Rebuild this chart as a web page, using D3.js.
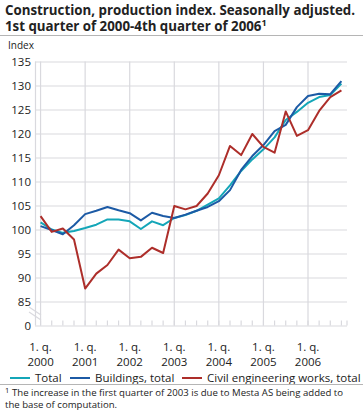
<!DOCTYPE html>
<html>
<head>
<meta charset="utf-8" />
<title>Construction, production index</title>
<script src="https://cdn.jsdelivr.net/npm/d3@7"></script>
<style>
  html, body { margin: 0; padding: 0; background: #fff; }
  body { font-family: "Open Sans", "DejaVu Sans", sans-serif; }
  svg text { fill: #222; }
</style>
</head>
<body>
<svg id="chart" width="363" height="410"></svg>
<script>
// quarters 2000Q1 .. 2006Q4
const years = ["2000", "2001", "2002", "2003", "2004", "2005", "2006"];
const yTicks = [80, 85, 90, 95, 100, 105, 110, 115, 120, 125, 130, 135];

const total = [101.5, 100.0, 99.3, 99.7, 100.3, 101.0, 102.1, 102.1,
  101.7, 100.1, 101.7, 100.9, 102.4, 103.0, 103.9, 105.2,
  106.5, 109.2, 112.2, 114.6, 116.7, 119.2, 122.8, 124.5,
  126.4, 127.6, 128.0, 130.4];
const buildings = [100.7, 99.9, 99.0, 100.9, 103.2, 103.9, 104.7, 104.0,
  103.4, 101.9, 103.5, 102.8, 102.4, 103.1, 103.9, 104.7,
  105.9, 108.2, 112.4, 115.3, 117.6, 120.5, 121.8, 125.5,
  127.8, 128.3, 128.2, 130.9];
const civil = [102.8, 99.5, 100.2, 97.9, 87.7, 90.8, 92.6, 95.8,
  94.0, 94.3, 96.2, 95.1, 104.9, 104.2, 104.9, 107.5,
  111.3, 117.4, 115.5, 119.9, 117.2, 116.0, 124.6, 119.5,
  120.7, 124.7, 127.6, 129.0];

const series = [
  { name: "Total", values: total, color: "#14a6b8" },
  { name: "Buildings, total", values: buildings, color: "#1c5aa5" },
  { name: "Civil engineering works, total", values: civil, color: "#ad2e2a" }
];

const svg = d3.select("#chart");
const margin = { top: 61.5, right: 16, bottom: 85, left: 35 };
const width = 363, height = 410;
const innerWidth = width - margin.left - margin.right;
const innerHeight = 325.5 - margin.top;
const grid = "#d9d9de";

// title
svg.append("text").attr("x", 5).attr("y", 15)
  .attr("font-size", 13.3).attr("font-weight", 700)
  .text("Construction, production index. Seasonally adjusted.");
const t2 = svg.append("text").attr("x", 5).attr("y", 31)
  .attr("font-size", 13.3).attr("font-weight", 700)
  .text("1st quarter of 2000-4th quarter of 2006");
t2.append("tspan").attr("font-size", 9).attr("dy", -5).text("1");
svg.append("line").attr("x1", 0).attr("x2", width).attr("y1", 35.5).attr("y2", 35.5)
  .attr("stroke", "#b5b5b5").attr("stroke-width", 1);

svg.append("text").attr("x", 8).attr("y", 49).attr("font-size", 10).text("Index");

const g = svg.append("g").attr("transform", `translate(${margin.left},${margin.top})`);

const n = total.length;
const x = d3.scaleLinear().domain([-0.5, n - 0.5]).range([0, innerWidth]);
const y = d3.scaleLinear().domain([80, 135]).range([innerHeight, 0]);

// horizontal grid
const yAxis = d3.axisLeft(y).tickValues(yTicks)
  .tickSize(-innerWidth).tickFormat("");
const yg = g.append("g").call(yAxis);
yg.select(".domain").remove();
yg.selectAll(".tick line").attr("stroke", grid).attr("stroke-width", 1.2);

// y labels (absolute positions)
svg.selectAll(".ylab").data(yTicks).join("text").attr("class", "ylab")
  .attr("x", margin.left - 4).attr("y", d => margin.top + y(d) + 4)
  .attr("text-anchor", "end").attr("font-size", 11.5)
  .text(d => d === 80 ? "0" : d);

// left axis line
g.append("line").attr("x1", 0.5).attr("x2", 0.5).attr("y1", 0).attr("y2", innerHeight)
  .attr("stroke", grid).attr("stroke-width", 1.2);

// vertical year grid lines
const yearIdx = years.map((d, i) => i * 4);
g.selectAll(".vgrid").data(yearIdx).join("line").attr("class", "vgrid")
  .attr("x1", d => x(d)).attr("x2", d => x(d))
  .attr("y1", 0).attr("y2", innerHeight)
  .attr("stroke", grid).attr("stroke-width", 1.2);

// quarter ticks
const qIdx = d3.range(n).concat([n - 0.5]);
g.selectAll(".qtick").data(qIdx).join("line").attr("class", "qtick")
  .attr("x1", d => x(d)).attr("x2", d => x(d))
  .attr("y1", innerHeight - 5).attr("y2", innerHeight)
  .attr("stroke", grid).attr("stroke-width", 1.2);

// axis break marks
const by = y(82.5);
[-2.5, 2.5].forEach(o => {
  g.append("line").attr("x1", -6).attr("x2", 6).attr("y1", by + o - 4).attr("y2", by + o + 4)
    .attr("stroke", grid).attr("stroke-width", 1.2);
});

// x labels (absolute positions)
svg.selectAll(".xq").data(years).join("text").attr("class", "xq")
  .attr("text-anchor", "middle").attr("font-size", 11.5)
  .attr("x", (d, i) => margin.left + x(i * 4)).attr("y", margin.top + innerHeight + 25)
  .text("1. q.");
svg.selectAll(".xy").data(years).join("text").attr("class", "xy")
  .attr("text-anchor", "middle").attr("font-size", 11.5)
  .attr("x", (d, i) => margin.left + x(i * 4)).attr("y", margin.top + innerHeight + 40)
  .text(d => d);

// lines
const line = d3.line().x((d, i) => x(i)).y(d => y(d));
g.selectAll(".series").data(series).join("path").attr("class", "series")
  .attr("fill", "none").attr("stroke", d => d.color).attr("stroke-width", 2)
  .attr("stroke-linejoin", "round")
  .attr("d", d => line(d.values));

// legend
const legX = [10, 70, 182];
svg.selectAll(".legline").data(series).join("line").attr("class", "legline")
  .attr("x1", (d, i) => legX[i]).attr("x2", (d, i) => legX[i] + 20)
  .attr("y1", 378).attr("y2", 378)
  .attr("stroke", d => d.color).attr("stroke-width", 2);
svg.selectAll(".legtext").data(series).join("text").attr("class", "legtext")
  .attr("x", (d, i) => legX[i] + 25).attr("y", 382).attr("font-size", 11.5)
  .text(d => d.name);

svg.append("line").attr("x1", 0).attr("x2", width).attr("y1", 384.5).attr("y2", 384.5)
  .attr("stroke", "#b5b5b5").attr("stroke-width", 1);

// footnote
svg.append("text").attr("x", 5).attr("y", 393).attr("font-size", 7.5).text("1");
svg.append("text").attr("x", 12).attr("y", 396).attr("font-size", 9.6)
  .text("The increase in the first quarter of 2003 is due to Mesta AS being added to");
svg.append("text").attr("x", 5).attr("y", 408).attr("font-size", 9.6).text("the base of computation.");
</script>
</body>
</html>
